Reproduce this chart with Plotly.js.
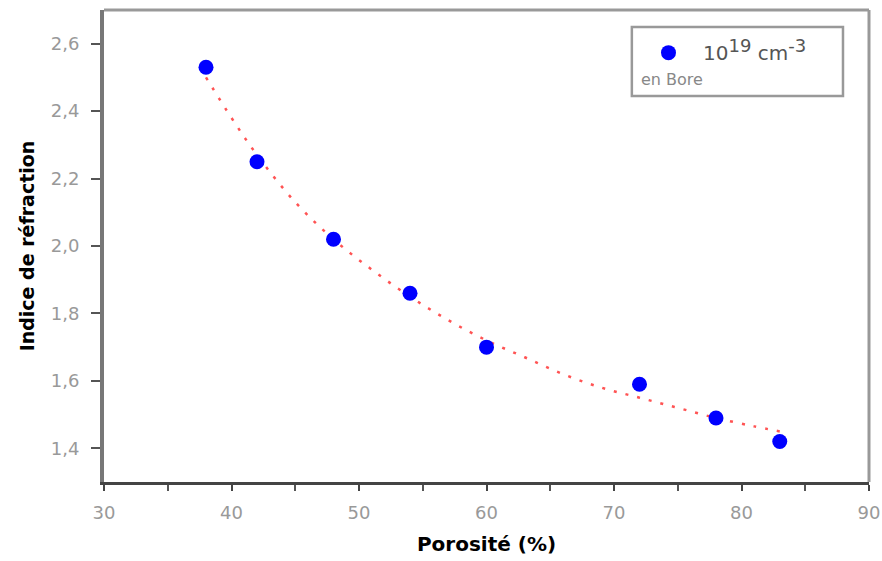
<!DOCTYPE html>
<html>
<head>
<meta charset="utf-8">
<script src="https://cdn.plot.ly/plotly-3.0.1.min.js"></script>
<style>html,body{margin:0;padding:0;background:#fff;}#chart{width:882px;height:561px;}</style>
</head>
<body>
<div id="chart"></div>
<script>
// Measured data points
const porosite = [38, 42, 48, 54, 60, 72, 78, 83];
const indice = [2.53, 2.25, 2.02, 1.86, 1.70, 1.59, 1.49, 1.42];
// Fit curve
const fitX = [38, 40, 42, 45, 48, 51, 54, 57, 60, 63, 66, 69, 72, 75, 78, 81, 83];
const fitY = [2.50, 2.38, 2.27, 2.13, 2.02, 1.93, 1.85, 1.78, 1.72, 1.67, 1.62, 1.58, 1.55, 1.52, 1.49, 1.465, 1.45];
const xTicks = [30, 40, 50, 60, 70, 80, 90];
const yTicks = [1.4, 1.6, 1.8, 2.0, 2.2, 2.4, 2.6];
const legendLabel = "10<sup><span style='font-size:18px'>19</span></sup> cm<sup><span style='font-size:18px'>-3</span></sup>";
const legendNote = "en Bore";
const xTitle = "Porosité (%)";
const yTitle = "Indice de réfraction";

const traces = [
  {
    x: fitX, y: fitY, type: 'scatter', mode: 'lines',
    line: {color: 'rgba(255,40,40,0.8)', width: 2.5, dash: '3px,9px', shape: 'spline'},
    showlegend: false, hoverinfo: 'skip'
  },
  {
    x: porosite, y: indice, type: 'scatter', mode: 'markers',
    name: legendLabel,
    marker: {color: '#0000ff', size: 15, symbol: 'circle', line: {width: 0}}
  }
];

const tickFont = {family: 'DejaVu Sans, Arial, sans-serif', size: 18, color: '#999999'};
const titleFont = {family: 'DejaVu Sans, Arial, sans-serif', size: 19, color: '#000000', weight: 'bold'};

const layout = {
  width: 882, height: 561,
  margin: {l: 104, r: 13, t: 10, b: 79},
  paper_bgcolor: '#ffffff', plot_bgcolor: '#ffffff',
  separators: ', ',
  showlegend: true,
  xaxis: {
    range: [30, 90], tickvals: xTicks, ticktext: xTicks.map(String),
    showgrid: false, zeroline: false,
    showline: true, linecolor: '#444444', linewidth: 3,
    ticks: 'outside', ticklen: 6, tickwidth: 2, tickcolor: '#444444',
    minor: {dtick: 5, ticks: 'outside', ticklen: 6, tickwidth: 2, tickcolor: '#555555'},
    tickfont: tickFont, ticklabelstandoff: 6,
    title: {text: xTitle, font: Object.assign({}, titleFont, {size: 20}), standoff: 16},
    automargin: false
  },
  yaxis: {
    range: [1.3, 2.7], tickvals: yTicks, ticktext: yTicks.map(v => v.toFixed(1).replace('.', ',')),
    showgrid: false, zeroline: false,
    showline: true, linecolor: '#777777', linewidth: 4,
    ticks: 'outside', ticklen: 9, tickwidth: 2, tickcolor: '#555555',
    tickfont: tickFont, ticklabelstandoff: 8,
    title: {text: yTitle, font: titleFont, standoff: 12},
    automargin: false
  },
  legend: {
    x: 0.6928, y: 0.951, xanchor: 'left', yanchor: 'top',
    bgcolor: 'rgba(0,0,0,0)', borderwidth: 0,
    font: {family: 'DejaVu Sans, Arial, sans-serif', size: 20, color: '#555555'},
    itemwidth: 59
  },
  shapes: [
    {type: 'line', xref: 'paper', yref: 'paper', x0: 0, x1: 1, y0: 1, y1: 1, line: {color: '#999999', width: 3}},
    {type: 'line', xref: 'paper', yref: 'paper', x0: 1, x1: 1, y0: 0, y1: 1, line: {color: '#999999', width: 3}},
    {type: 'rect', xref: 'paper', yref: 'paper', x0: 0.690, x1: 0.966, y0: 0.818, y1: 0.964, line: {color: '#999999', width: 2.5}, fillcolor: 'rgba(0,0,0,0)'}
  ],
  annotations: [
    {text: legendNote, xref: 'paper', yref: 'paper', x: 0.699, y: 0.852, xanchor: 'left', yanchor: 'middle', showarrow: false,
     font: {family: 'DejaVu Sans, Arial, sans-serif', size: 16, color: '#888888'}}
  ]
};

Plotly.newPlot('chart', traces, layout, {displayModeBar: false, staticPlot: true});
</script>
</body>
</html>
